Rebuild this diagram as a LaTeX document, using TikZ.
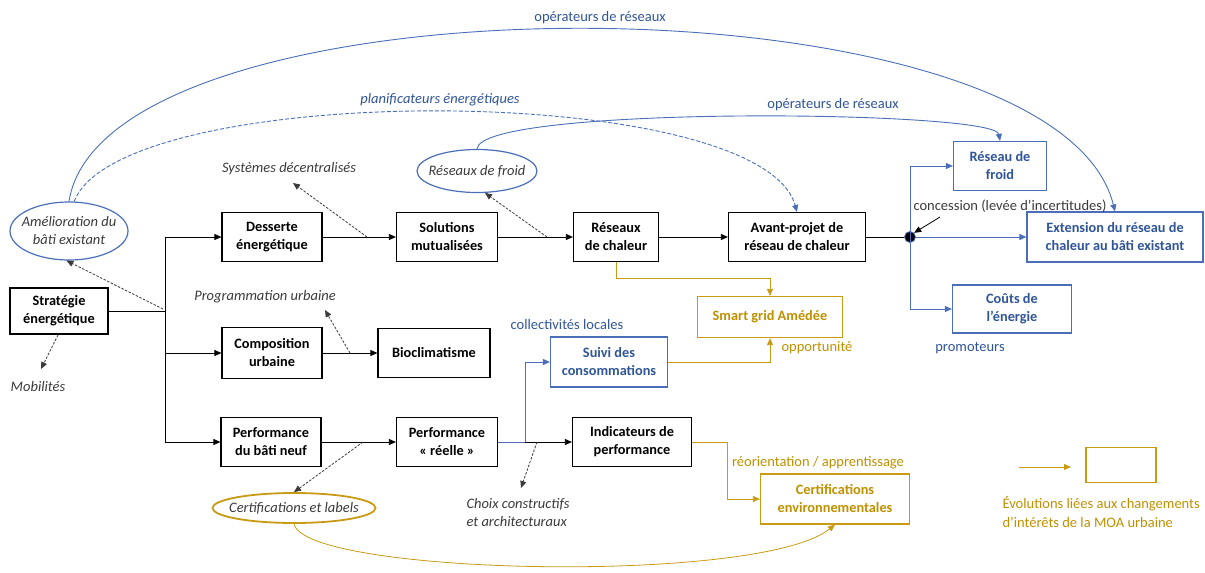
\documentclass[tikz,border=0pt]{standalone}
\usepackage{fontspec}
\setmainfont{Carlito}
\usetikzlibrary{arrows.meta,shapes.geometric}
\definecolor{bline}{HTML}{4A6FB8}
\definecolor{btext}{HTML}{2F5597}
\definecolor{gold}{HTML}{C99A14}
\definecolor{gtext}{HTML}{BF9000}
\definecolor{dgray}{HTML}{3A3A3A}
\begin{document}
\begin{tikzpicture}[x=1pt,y=-1pt,
  font=\fontsize{14.5}{18}\selectfont,
  tip/.style={-{Triangle[length=7pt,width=6pt]}},
  bbox/.style={draw=black, line width=1.2pt, align=center, inner sep=0pt,
    font=\fontsize{14.3}{18}\selectfont\bfseries, text=black},
  ubox/.style={bbox, draw=bline, text=btext},
  gbox/.style={bbox, draw=gold, text=gtext},
  ell/.style={ellipse, draw=bline, line width=1.2pt, inner xsep=-8pt, inner ysep=0pt, align=center,
    font=\fontsize{14.5}{18}\selectfont\itshape, text=dgray},
  gell/.style={ell, draw=gold, line width=1.8pt},
  conn/.style={line width=0.8pt, draw=black},
  dconn/.style={dash pattern=on 2.5pt off 1.5pt, line width=0.8pt, draw=dgray, -{Triangle[length=7pt,width=6pt]}},
  uconn/.style={line width=0.9pt, draw=bline},
  gconn/.style={line width=0.8pt, draw=gold},
  ilbl/.style={font=\fontsize{14.5}{18}\selectfont\itshape, text=dgray, align=center},
  ulbl/.style={text=btext, align=center},
  glbl/.style={text=gtext, align=center}]
\useasboundingbox (0,0) rectangle (1205,573);

% black boxes
\node[bbox, minimum width=98pt, minimum height=46pt] (strat) at (59,311) {Stratégie\\énergétique};
\node[bbox, minimum width=100pt, minimum height=49pt] (desserte) at (272,237) {Desserte\\énergétique};
\node[bbox, minimum width=100pt, minimum height=51pt] (compo) at (272,353) {Composition\\urbaine};
\node[bbox, minimum width=100pt, minimum height=49pt] (perfneuf) at (271,442) {Performance\\du bâti neuf};
\node[bbox, minimum width=101pt, minimum height=49pt] (solmut) at (447,237) {Solutions\\mutualisées};
\node[bbox, minimum width=85pt, minimum height=49pt] (reschal) at (616,237) {Réseaux\\de chaleur};
\node[bbox, minimum width=137pt, minimum height=49pt] (avant) at (797,237) {Avant-projet de\\réseau de chaleur};
\node[bbox, minimum width=112pt, minimum height=49pt] (bioclim) at (434,353) {Bioclimatisme};
\node[bbox, minimum width=101pt, minimum height=49pt] (perfreel) at (447,442) {Performance\\«~réelle~»};
\node[bbox, minimum width=119pt, minimum height=49pt] (indic) at (632,442) {Indicateurs de\\performance};

% blue boxes
\node[ubox, minimum width=117pt, minimum height=50pt] (suivi) at (609,362) {Suivi des\\consommations};
\node[ubox, minimum width=93pt, minimum height=49pt] (froidbox) at (1000,166) {Réseau de\\froid};
\node[ubox, minimum width=176pt, minimum height=50pt] (ext) at (1115,237) {Extension du réseau de\\chaleur au bâti existant};
\node[ubox, minimum width=119pt, minimum height=48pt] (couts) at (1012,309) {Coûts de\\l’énergie};

% gold boxes
\node[gbox, minimum width=145pt, minimum height=41pt] (smart) at (770,317) {Smart grid Amédée};
\node[gbox, minimum width=149pt, minimum height=50pt] (certenv) at (835,499) {Certifications\\environnementales};
\node[gbox, minimum width=70pt, minimum height=35pt] (leg) at (1121,465) {};

% ellipses
\node[ell, minimum width=118pt, minimum height=58pt] (amelio) at (69,231) {Amélioration du\\bâti existant};
\node[ell, minimum width=120pt, minimum height=43pt] (froidell) at (477,171) {Réseaux de froid};
\node[gell, minimum width=163pt, minimum height=30pt] (certell) at (294,508) {Certifications et labels};

% junction dot
\node[circle, fill=black, draw=bline, line width=0.8pt, inner sep=0pt, minimum size=11pt] (dot) at (910,237) {};

% labels
\node[ulbl] (op1) at (600,18) {opérateurs de réseaux};
\node[ulbl, font=\fontsize{14.5}{18}\selectfont\itshape] (planif) at (440,100) {planificateurs énergétiques};
\node[ulbl] (op2) at (833,105) {opérateurs de réseaux};
\node[ulbl] (coll) at (567,325) {collectivités locales};
\node[glbl] (oppo) at (817,348) {opportunité};
\node[text=dgray] (conc) at (1010,206) {concession (levée d’incertitudes)};
\node[ulbl] (promo) at (970,348) {promoteurs};
\node[glbl] (reor) at (818,463) {réorientation / apprentissage};
\node[glbl, anchor=west, align=left, font=\fontsize{14.5}{19}\selectfont] (legtxt) at (999,512) {Évolutions liées aux changements\\d’intérêts de la MOA urbaine};
\node[ilbl] (sys) at (289,169) {Systèmes décentralisés};
\node[ilbl] (prog) at (265,297) {Programmation urbaine};
\node[ilbl] (mob) at (38,387) {Mobilités};
\node[ilbl, anchor=west, align=left] (choix) at (463,513) {Choix constructifs\\et architecturaux};

% coordinates
\coordinate (br) at (165,311);
\coordinate (j) at (525,442);
\coordinate (gj) at (727,442);
\coordinate (d1) at (163,309);
\coordinate (mobfrom) at (58,335);
\coordinate (mobtip) at (41,369);
\coordinate (s1) at (367,237);
\coordinate (systip) at (293,183);
\coordinate (p1) at (350,353);
\coordinate (progtip) at (325,310);
\coordinate (f1) at (547,237);
\coordinate (c1) at (363,442);
\coordinate (ch1) at (537,442);
\coordinate (chtip) at (521,488);
\coordinate (concfrom) at (940,217);
\coordinate (la) at (1019,467);
\coordinate (lb) at (1071,467);

% black connectors
\draw[conn] (strat.east) -- (br);
\draw[conn, tip] (br) |- (desserte.west);
\draw[conn, tip] (br) |- (compo.west);
\draw[conn, tip] (br) |- (perfneuf.west);
\draw[conn, tip] (desserte) -- (solmut);
\draw[conn, tip] (solmut) -- (reschal);
\draw[conn, tip] (reschal) -- (avant);
\draw[conn] (avant.east) -- (dot);
\draw[conn, tip] (compo) -- (bioclim);
\draw[conn, tip] (perfneuf) -- (perfreel);
\draw[conn, tip] (j) -- (indic.west);
\draw[conn, tip] (concfrom) -- (dot.north east);

% blue connectors
\draw[uconn] (perfreel.east) -- (j);
\draw[uconn, tip] (j) |- (suivi.west);
\draw[uconn, tip] (dot.center) |- (froidbox.west);
\draw[uconn, tip] (dot) -- (ext.west);
\draw[uconn, tip] (dot.center) |- (couts.west);
\draw[uconn, tip] (amelio.north) .. controls (105,-30) and (1055,-30) .. (ext.north);
\draw[uconn, dash pattern=on 4pt off 2pt, tip] (amelio.80) .. controls (120,80) and (760,80) .. (avant.north);
\draw[uconn, tip] (froidell.north) .. controls (480,105) and (995,110) .. (froidbox.north);

% gold connectors
\draw[gconn, tip] (reschal.south) -- ++(0,16) -| (smart.north);
\draw[gconn, tip] (suivi.east) -| (smart.south);
\draw[gconn] (indic.east) -- (gj);
\draw[gconn, tip] (gj) |- (certenv.west);
\draw[gconn, tip] (certell.south) .. controls (305,575) and (760,585) .. (certenv.south);
\draw[gconn, tip] (la) -- (lb);

% dashed connectors
\draw[dconn] (d1) -- (amelio.265);
\draw[dconn] (mobfrom) -- (mobtip);
\draw[dconn] (s1) -- (systip);
\draw[dconn] (p1) -- (progtip);
\draw[dconn] (f1) -- (froidell.290);
\draw[dconn] (c1) -- (certell.north);
\draw[dconn] (ch1) -- (chtip);
\end{tikzpicture}
\end{document}
